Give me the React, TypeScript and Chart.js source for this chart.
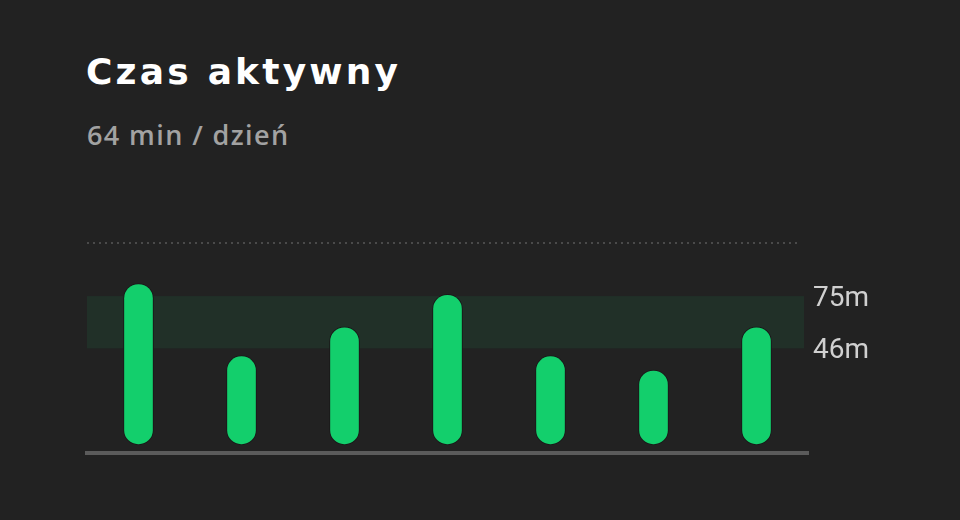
import React, { useEffect, useRef } from 'react';
import { Chart, registerables } from 'chart.js';

Chart.register(...registerables);

const days = ['Pn', 'Wt', 'Śr', 'Cz', 'Pt', 'So', 'Nd'];
const activeMinutes = [82, 42, 58, 76, 42, 34, 58];
const targetRange = [46, 75];
const rangeLabels = ['46m', '75m'];
const barBase = -7.5;
const yMin = -12;
const yMax = 105;

// green target band + dotted top line
const bandPlugin = {
  id: 'targetBand',
  beforeDatasetsDraw(chart: Chart) {
    const { ctx, chartArea, scales } = chart;
    const y = scales.y;
    const top = y.getPixelForValue(targetRange[1]);
    const bottom = y.getPixelForValue(targetRange[0]);
    ctx.save();
    ctx.fillStyle = 'rgba(24, 200, 110, 0.085)';
    ctx.fillRect(chartArea.left, top, chartArea.right - chartArea.left - 4, bottom - top);

    const lineY = Math.round(y.getPixelForValue(yMax)) + 1;
    ctx.strokeStyle = '#4a4a4a';
    ctx.lineWidth = 2;
    ctx.setLineDash([2, 4]);
    ctx.beginPath();
    ctx.moveTo(chartArea.left, lineY);
    ctx.lineTo(chartArea.right - 10, lineY);
    ctx.stroke();
    ctx.restore();
  },
};

const ActiveChart: React.FC = () => {
  const chartRef = useRef<HTMLCanvasElement>(null);
  const chartInstanceRef = useRef<Chart | null>(null);

  useEffect(() => {
    if (!chartRef.current) return;
    const ctx = chartRef.current.getContext('2d');
    if (!ctx) return;

    chartInstanceRef.current = new Chart(ctx, {
      type: 'bar',
      data: {
        labels: days,
        datasets: [{
          label: 'Czas aktywny',
          data: activeMinutes,
          base: barBase,
          backgroundColor: '#13cf6c',
          borderColor: '#191919',
          borderWidth: 1,
          borderRadius: 15,
          borderSkipped: false,
          barThickness: 30,
        }],
      },
      options: {
        responsive: false,
        animation: false,
        layout: { padding: { left: 87, top: 42, bottom: 47, right: 0 } },
        scales: {
          x: {
            grid: { display: false, drawTicks: false },
            ticks: { display: false },
            border: { color: '#5b5b5b', width: 4 },
          },
          y: {
            position: 'right',
            min: yMin,
            max: yMax,
            grid: { display: false, drawTicks: false },
            border: { display: false },
            afterBuildTicks: (scale: any) => {
              scale.ticks = targetRange.map((v) => ({ value: v }));
            },
            afterFit: (scale: any) => {
              scale.width = 152;
            },
            ticks: {
              padding: 5,
              labelOffset: 3,
              color: '#d0d0d0',
              font: { family: 'Roboto', size: 28 },
              callback: (value: any) => {
                const i = targetRange.indexOf(Number(value));
                return i >= 0 ? rangeLabels[i] : '';
              },
            },
          },
        },
        plugins: {
          legend: { display: false },
          tooltip: { enabled: false },
        },
      },
      plugins: [bandPlugin],
    });

    return () => {
      if (chartInstanceRef.current) {
        chartInstanceRef.current.destroy();
        chartInstanceRef.current = null;
      }
    };
  }, []);

  return (
    <canvas
      ref={chartRef}
      width={960}
      height={300}
      style={{ position: 'absolute', left: 0, top: 200, width: 960, height: 300 }}
    />
  );
};

export default function App() {
  return (
    <div style={{ position: 'fixed', inset: 0, width: 960, height: 520, background: '#222222', overflow: 'hidden' }}>
      <div style={{
        position: 'absolute', left: 86, top: 54, fontFamily: 'DejaVu Sans', fontWeight: 700,
        fontSize: 36, lineHeight: '36px', letterSpacing: 3.2, color: '#ffffff', whiteSpace: 'nowrap',
      }}>
        Czas aktywny
      </div>
      <div style={{
        position: 'absolute', left: 87, top: 121, fontFamily: 'Open Sans', fontWeight: 600,
        fontSize: 27, lineHeight: '27px', letterSpacing: 1.4, color: '#a2a2a2', whiteSpace: 'nowrap',
      }}>
        64 min / dzień
      </div>
      <ActiveChart />
    </div>
  );
}
